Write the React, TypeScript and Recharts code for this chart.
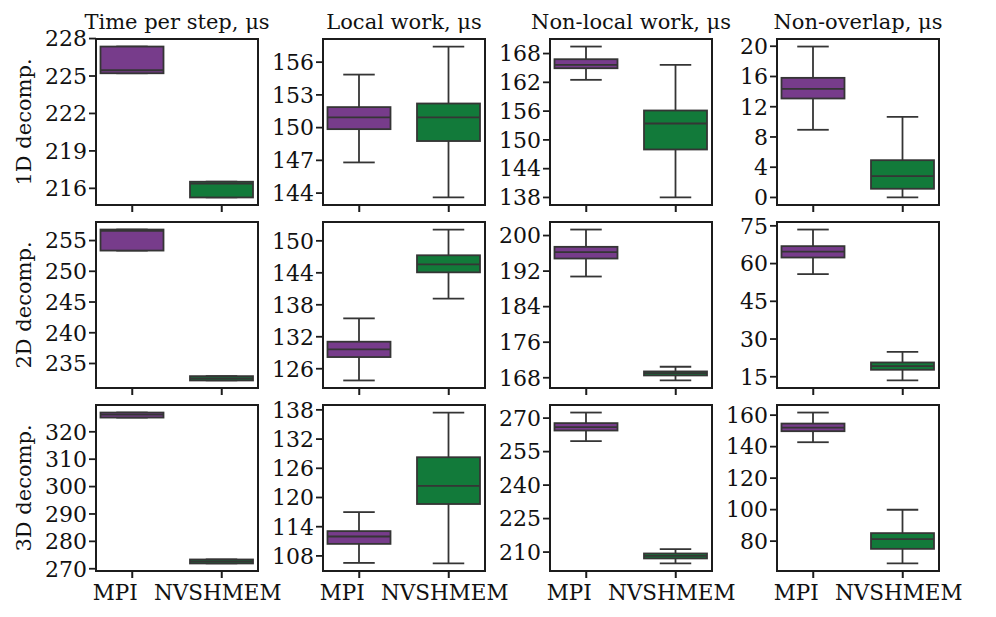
import React from 'react';
import { ComposedChart, Bar, XAxis, YAxis } from 'recharts';

const categories = ['MPI', 'NVSHMEM'];
const categoryLabelShift = [-17, -4];
const columnTitles = ['Time per step, μs', 'Local work, μs', 'Non-local work, μs', 'Non-overlap, μs'];
const rowLabels = ['1D decomp.', '2D decomp.', '3D decomp.'];

// stats: [whisker low, Q1, median, Q3, whisker high]
const time1DMpi = [225.22, 225.22, 225.46, 227.36, 227.36];
const time1DNvs = [215.27, 215.27, 216.37, 216.53, 216.53];
const local1DMpi = [146.81, 149.86, 150.93, 151.88, 154.86];
const local1DNvs = [143.6, 148.77, 150.93, 152.21, 157.43];
const nonlocal1DMpi = [162.52, 164.94, 165.65, 166.82, 169.46];
const nonlocal1DNvs = [138.0, 148.0, 153.42, 156.13, 165.65];
const overlap1DMpi = [8.95, 13.09, 14.37, 15.82, 19.96];
const overlap1DNvs = [0.0, 1.15, 2.82, 4.93, 10.65];

const time2DMpi = [253.37, 253.37, 256.57, 256.79, 256.79];
const time2DNvs = [232.24, 232.24, 232.56, 232.94, 232.94];
const local2DMpi = [123.8, 128.19, 129.62, 131.07, 135.45];
const local2DNvs = [139.15, 144.09, 145.6, 147.29, 152.12];
const nonlocal2DMpi = [190.78, 194.83, 196.25, 197.46, 201.35];
const nonlocal2DNvs = [167.39, 168.52, 169.04, 169.42, 170.47];
const overlap2DMpi = [55.81, 62.41, 64.79, 66.93, 73.53];
const overlap2DNvs = [13.53, 17.78, 19.25, 20.68, 24.93];

const time3DMpi = [325.2, 325.2, 326.3, 327.03, 327.03];
const time3DNvs = [271.93, 271.93, 272.65, 273.38, 273.38];
const local3DMpi = [106.56, 110.47, 111.99, 113.09, 117.0];
const local3DNvs = [106.45, 118.66, 122.37, 128.27, 137.45];
const nonlocal3DMpi = [259.7, 264.45, 265.97, 267.76, 272.5];
const nonlocal3DNvs = [204.9, 207.15, 208.34, 209.37, 211.34];
const overlap3DMpi = [142.81, 149.81, 152.1, 154.65, 161.65];
const overlap3DNvs = [65.83, 75.1, 81.27, 85.09, 99.92];

const ticksTime1D = [216, 219, 222, 225, 228];
const ticksLocal1D = [144, 147, 150, 153, 156];
const ticksNonlocal1D = [138, 144, 150, 156, 162, 168];
const ticksOverlap1D = [0, 4, 8, 12, 16, 20];
const ticksTime2D = [235, 240, 245, 250, 255];
const ticksLocal2D = [126, 132, 138, 144, 150];
const ticksNonlocal2D = [168, 176, 184, 192, 200];
const ticksOverlap2D = [15, 30, 45, 60, 75];
const ticksTime3D = [270, 280, 290, 300, 310, 320];
const ticksLocal3D = [108, 114, 120, 126, 132, 138];
const ticksNonlocal3D = [210, 225, 240, 255, 270];
const ticksOverlap3D = [80, 100, 120, 140, 160];

const panels = [
  [
    { mpi: time1DMpi, nvs: time1DNvs, ticks: ticksTime1D },
    { mpi: local1DMpi, nvs: local1DNvs, ticks: ticksLocal1D },
    { mpi: nonlocal1DMpi, nvs: nonlocal1DNvs, ticks: ticksNonlocal1D },
    { mpi: overlap1DMpi, nvs: overlap1DNvs, ticks: ticksOverlap1D },
  ],
  [
    { mpi: time2DMpi, nvs: time2DNvs, ticks: ticksTime2D },
    { mpi: local2DMpi, nvs: local2DNvs, ticks: ticksLocal2D },
    { mpi: nonlocal2DMpi, nvs: nonlocal2DNvs, ticks: ticksNonlocal2D },
    { mpi: overlap2DMpi, nvs: overlap2DNvs, ticks: ticksOverlap2D },
  ],
  [
    { mpi: time3DMpi, nvs: time3DNvs, ticks: ticksTime3D },
    { mpi: local3DMpi, nvs: local3DNvs, ticks: ticksLocal3D },
    { mpi: nonlocal3DMpi, nvs: nonlocal3DNvs, ticks: ticksNonlocal3D },
    { mpi: overlap3DMpi, nvs: overlap3DNvs, ticks: ticksOverlap3D },
  ],
];

const COLORS = ['#773c8b', '#127a3a'];
const EDGE = '#353535';
const AXIS = '#1c1c1c';
const FONT = '"DejaVu Serif", serif';
const FS_TICK = 22;
const FS_LABEL = 21;
const FS_XLABEL = 21.5;

const COL_LEFT = [96, 323, 550, 777];
const ROW_TOP = [39, 222, 405];
const PW = 162;
const PH = 166;
const YAXIS_W = 90;
const TOP_M = 10;
const RIGHT_M = 40;
const XAXIS_H = 45;
const X_DOMAIN = [-0.405, 1.405];
const TICK_LEN = 7;

function BoxShape(props: any) {
  const { x, y, width, height, payload, index } = props;
  const s: number[] = payload.stats;
  const [lo, q1, med, q3, hi] = s;
  const top = Math.min(y, y + height);
  const bottom = Math.max(y, y + height);
  const span = hi - lo;
  const ppu = span === 0 ? 0 : (bottom - top) / span;
  const toY = (v: number) => bottom - (v - lo) * ppu;
  const cx = x + width / 2;
  const cap = width / 4;
  const yq1 = toY(q1);
  const yq3 = toY(q3);
  const ym = toY(med);
  return (
    <g>
      <line x1={cx} x2={cx} y1={toY(hi)} y2={yq3} stroke={EDGE} strokeWidth={1.8} />
      <line x1={cx} x2={cx} y1={yq1} y2={toY(lo)} stroke={EDGE} strokeWidth={1.8} />
      <line x1={cx - cap} x2={cx + cap} y1={toY(hi)} y2={toY(hi)} stroke={EDGE} strokeWidth={1.8} />
      <line x1={cx - cap} x2={cx + cap} y1={toY(lo)} y2={toY(lo)} stroke={EDGE} strokeWidth={1.8} />
      <rect x={x} y={yq3} width={width} height={Math.max(yq1 - yq3, 0.5)} fill={COLORS[index % 2]} stroke={EDGE} strokeWidth={1.8} />
      <line x1={x} x2={x + width} y1={ym} y2={ym} stroke={EDGE} strokeWidth={1.8} />
    </g>
  );
}

function makeXTick(showLabel: boolean) {
  return function XTick(props: any) {
    const { x, y, payload } = props;
    const i = payload.value as number;
    return (
      <g>
        <rect x={x - 1} y={y - TICK_LEN} width={2} height={TICK_LEN} fill={AXIS} />
        {showLabel && (
          <text x={x + (categoryLabelShift[i] ?? 0)} y={y + 7} dy="0.72em" textAnchor="middle" fontFamily={FONT} fontSize={FS_XLABEL} fill="#111">
            {categories[i]}
          </text>
        )}
      </g>
    );
  };
}

function Panel({ row, col }: { row: number; col: number }) {
  const p = panels[row][col];
  const data = categories.map((name, i) => {
    const stats = i === 0 ? p.mpi : p.nvs;
    return { pos: i, name, stats, range: [stats[0], stats[4]] };
  });
  const all = [...p.mpi, ...p.nvs];
  const mn = Math.min(...all);
  const mx = Math.max(...all);
  const m = (mx - mn) * 0.05;
  const domain = [mn - m, mx + m];
  const W = YAXIS_W + PW + RIGHT_M;
  const H = TOP_M + PH + XAXIS_H;
  return (
    <div style={{ position: 'absolute', left: COL_LEFT[col] - YAXIS_W, top: ROW_TOP[row] - TOP_M }}>
      <ComposedChart width={W} height={H} data={data} margin={{ top: TOP_M, right: RIGHT_M, bottom: 0, left: 0 }}>
        <XAxis
          dataKey="pos"
          type="number"
          domain={X_DOMAIN}
          ticks={[0, 1]}
          axisLine={false}
          tickLine={false}
          tickSize={TICK_LEN}
          tickMargin={0}
          height={XAXIS_H}
          tick={makeXTick(row === 2)}
          interval={0}
        />
        <YAxis
          type="number"
          domain={domain}
          ticks={p.ticks}
          interval={0}
          width={YAXIS_W}
          axisLine={false}
          tickSize={TICK_LEN}
          tickMargin={2}
          tickLine={{ stroke: AXIS, strokeWidth: 1.8 }}
          tick={{ fontSize: FS_TICK, fontFamily: FONT, fill: '#111' }}
        />
        <Bar dataKey="range" barSize={63} shape={BoxShape} isAnimationActive={false} />
      </ComposedChart>
      <div
        style={{
          position: 'absolute',
          left: YAXIS_W - 1,
          top: TOP_M - 1,
          width: PW + 2,
          height: PH + 2,
          border: `2px solid ${AXIS}`,
          boxSizing: 'border-box',
          pointerEvents: 'none',
        }}
      />
    </div>
  );
}

export default function App() {
  return (
    <div style={{ position: 'absolute', left: 0, top: 0, width: 996, height: 617, background: '#fff', overflow: 'hidden' }}>
      <svg width={996} height={617} style={{ position: 'absolute', left: 0, top: 0 }}>
        {columnTitles.map((t, c) => (
          <text key={t} x={COL_LEFT[c] + PW / 2} y={29} textAnchor="middle" fontFamily={FONT} fontSize={FS_LABEL} fill="#111">
            {t}
          </text>
        ))}
        {rowLabels.map((t, r) => {
          const cy = ROW_TOP[r] + PH / 2;
          return (
            <text key={t} x={31} y={cy} transform={`rotate(-90, 31, ${cy})`} textAnchor="middle" fontFamily={FONT} fontSize={FS_LABEL} fill="#111">
              {t}
            </text>
          );
        })}
      </svg>
      {panels.map((rowPanels, r) => rowPanels.map((_, c) => <Panel key={`${r}-${c}`} row={r} col={c} />))}
    </div>
  );
}
